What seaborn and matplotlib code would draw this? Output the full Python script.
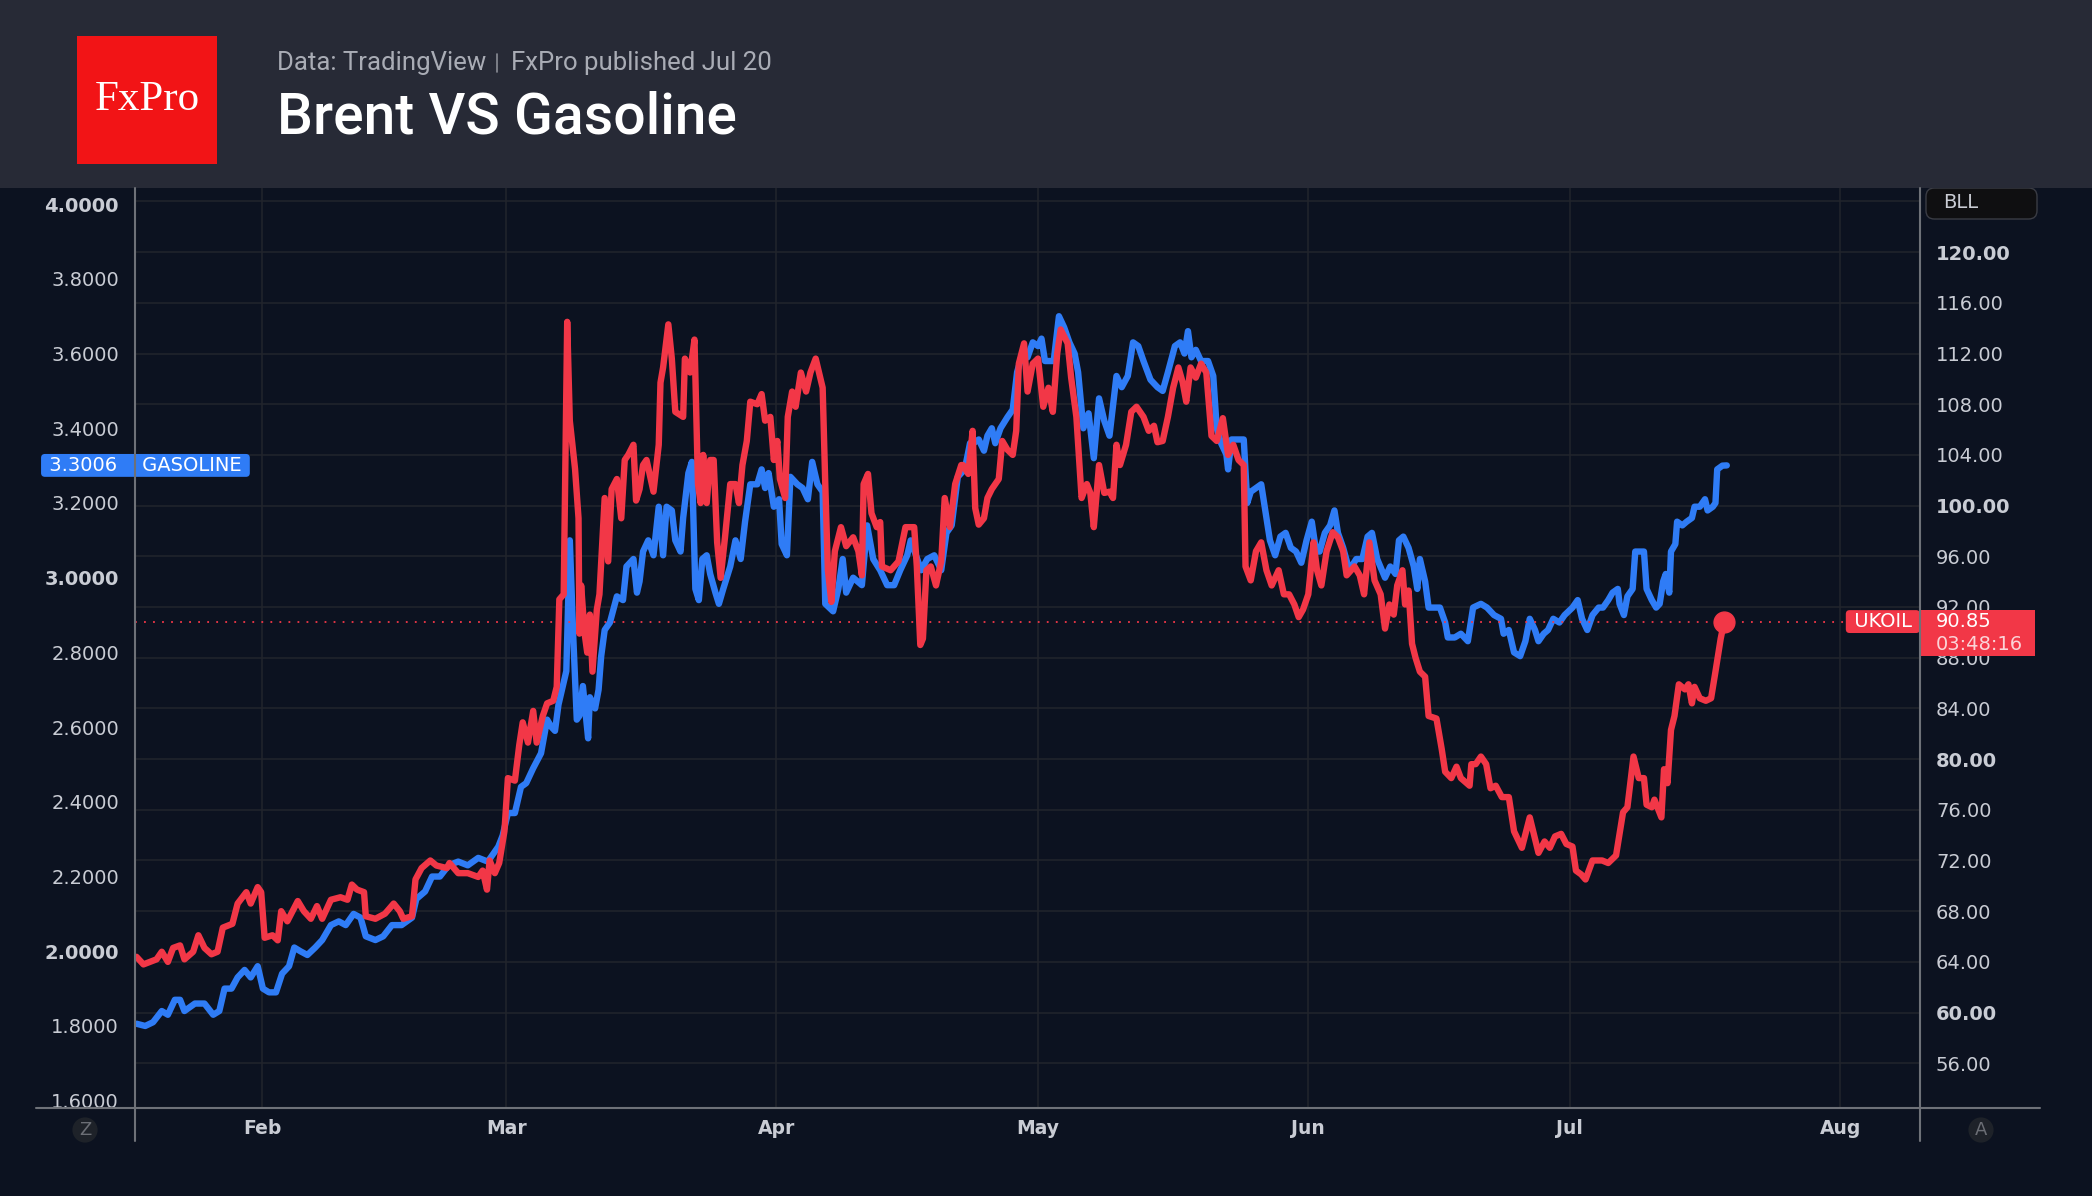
import numpy as np
import pandas as pd
import matplotlib
matplotlib.use('Agg')
import matplotlib.pyplot as plt
import matplotlib.transforms as mtransforms
from matplotlib.patches import Rectangle, FancyBboxPatch
from matplotlib.lines import Line2D
import seaborn as sns

# ---- data ----
# x = day of year 2022 (0 = Jan 1), values in each series' own units
brent_day = [16.6, 17.4, 18.9, 19.5, 20.2, 20.8, 21.6, 22.1, 23.1, 23.7, 24.4, 25.2, 25.9, 26.5, 27.6, 28.2,
             29.2, 29.7, 30.5, 30.9, 31.3, 32.2, 32.8, 33.2, 33.9, 35.1, 35.8, 36.6, 37.3, 37.9, 38.9, 40.0,
             40.8, 41.3, 41.9, 42.7, 42.9, 44.0, 45.1, 46.1, 46.8, 47.2, 48.2, 48.6, 49.3, 50.3, 51.0, 52.2,
             52.5, 53.5, 54.6, 55.8, 56.3, 56.8, 57.1, 57.7, 58.2, 58.8, 59.2, 60.0, 60.5, 60.9, 61.5, 62.1,
             62.5, 63.2, 63.7, 64.4, 64.8, 65.1, 65.6, 66.0, 66.3, 66.9, 67.3, 67.4, 67.6, 68.0, 68.3, 68.6,
             68.9, 69.4, 69.7, 70.3, 70.7, 71.1, 71.7, 72.2, 72.6, 73.0, 73.6, 73.9, 74.3, 74.7, 75.1, 75.9,
             76.5, 76.7, 77.0, 77.6, 78.0, 78.4, 79.3, 79.5, 80.1, 80.6, 81.0, 81.3, 81.6, 82.0, 82.4, 82.8,
             83.2, 83.6, 84.1, 84.7, 85.3, 85.7, 86.1, 86.6, 87.0, 87.8, 88.3, 88.7, 89.3, 89.7, 90.1, 90.4,
             91.0, 91.3, 91.8, 92.2, 92.8, 93.4, 93.9, 94.5, 95.3, 95.6, 95.9, 96.3, 96.7, 97.4, 98.0, 98.8,
             99.4, 99.8, 100.0, 100.5, 100.9, 101.5, 101.9, 102.1, 103.1, 104.0, 104.8, 105.8, 106.1, 106.5,
             106.8, 107.2, 107.7, 108.3, 108.9, 109.3, 109.9, 110.5, 111.2, 111.4, 112.0, 112.5, 112.8, 113.2,
             113.8, 114.2, 114.7, 115.5, 115.9, 116.5, 117.1, 117.5, 117.8, 118.4, 118.8, 119.4, 120.0, 120.6,
             121.2, 121.7, 122.2, 122.6, 123.4, 123.8, 124.4, 125.0, 125.6, 126.0, 126.4, 127.0, 127.6, 128.2,
             128.6, 129.0, 129.4, 130.1, 130.7, 131.3, 132.1, 132.7, 133.3, 133.7, 134.3, 134.9, 135.5, 136.1,
             136.6, 137.0, 137.5, 138.1, 138.7, 139.3, 139.9, 140.5, 141.2, 141.8, 142.4, 143.0, 143.6, 143.8,
             144.4, 145.0, 145.6, 146.2, 146.8, 147.6, 148.2, 148.8, 149.4, 149.9, 150.4, 151.0, 151.6, 152.0,
             152.5, 153.1, 153.8, 154.4, 155.0, 155.4, 156.3, 156.9, 157.4, 158.0, 158.6, 159.3, 159.8, 160.3,
             160.8, 161.2, 161.8, 162.1, 162.5, 162.9, 163.3, 163.8, 164.4, 164.8, 165.7, 166.3, 166.7, 167.4,
             168.0, 168.5, 169.5, 169.7, 170.2, 170.8, 171.4, 171.9, 172.5, 173.2, 174.0, 174.6, 175.5, 176.4,
             177.4, 178.1, 178.7, 179.3, 180.0, 180.6, 181.3, 181.7, 182.3, 182.8, 183.6, 184.7, 185.4, 186.3,
             187.1, 187.6, 188.3, 188.9, 189.5, 189.8, 190.4, 190.7, 191.5, 191.8, 192.2, 192.6, 193.0, 193.5,
             194.2, 194.6, 195.0, 195.3, 195.9, 196.6, 197.2, 197.7, 198.3, 198.7]
brent_price = [64.4, 63.8, 64.2, 64.8, 64.0, 65.1, 65.3, 64.2, 64.8, 66.1, 65.1, 64.6, 64.8, 66.7, 67.0, 68.6,
               69.5, 68.6, 69.9, 69.5, 65.9, 66.1, 65.7, 68.0, 67.2, 68.8, 68.0, 67.4, 68.4, 67.4, 68.9, 69.1,
               68.9, 70.1, 69.7, 69.5, 67.6, 67.4, 67.8, 68.6, 68.0, 67.4, 67.6, 70.5, 71.4, 72.0, 71.6, 71.4,
               71.8, 71.0, 71.0, 70.7, 71.2, 69.7, 72.0, 71.0, 71.8, 74.3, 78.5, 78.3, 81.1, 82.9, 81.3, 83.8,
               81.3, 83.4, 84.4, 84.6, 85.7, 92.6, 93.0, 114.5, 106.7, 102.9, 99.0, 89.9, 93.7, 89.9, 88.4, 91.4,
               86.9, 91.8, 93.0, 100.6, 95.6, 101.3, 102.1, 99.0, 103.6, 104.0, 104.8, 100.4, 101.3, 103.2, 103.6, 101.1,
               104.8, 109.7, 110.9, 114.3, 111.6, 107.4, 107.0, 111.6, 110.5, 113.1, 101.7, 100.2, 104.0, 100.2, 103.6, 103.6,
               97.1, 94.3, 97.5, 101.7, 101.7, 100.2, 103.2, 105.1, 108.2, 108.0, 108.8, 106.7, 107.0, 103.6, 105.1, 102.1,
               100.6, 107.0, 109.0, 107.8, 110.5, 109.0, 110.5, 111.6, 109.3, 101.7, 94.9, 92.4, 96.4, 98.3, 96.8, 97.5,
               96.4, 94.5, 101.7, 102.5, 99.4, 98.3, 98.7, 95.2, 94.9, 95.6, 98.3, 98.3, 95.2, 89.0,
               89.5, 94.9, 95.2, 93.7, 95.6, 100.6, 98.3, 101.7, 103.2, 103.2, 102.5, 105.9, 99.8, 98.5,
               99.0, 100.6, 101.3, 102.1, 105.1, 104.4, 104.0, 105.9, 111.2, 112.8, 109.0, 111.2, 111.6, 107.8,
               109.3, 107.4, 112.0, 113.9, 112.8, 110.1, 107.0, 100.6, 101.7, 101.0, 98.3, 103.2, 101.0, 101.1,
               100.6, 104.8, 103.2, 104.8, 107.4, 107.8, 107.0, 105.9, 106.3, 105.0, 105.1, 107.0, 109.3, 110.9,
               109.7, 108.2, 110.9, 110.1, 111.2, 110.5, 105.5, 105.1, 106.9, 104.0, 104.8, 103.6, 103.2, 95.2,
               94.1, 96.4, 97.1, 94.9, 93.7, 94.9, 93.0, 93.0, 92.2, 91.2, 91.8, 93.0, 97.1, 94.9,
               93.7, 96.4, 97.9, 97.5, 96.4, 94.5, 95.2, 94.5, 93.0, 97.1, 94.1, 93.0, 90.3, 92.2,
               91.4, 93.7, 94.9, 92.2, 93.3, 89.1, 88.0, 86.9, 86.5, 83.4, 83.2, 80.8, 79.0, 78.5,
               79.4, 78.5, 77.9, 79.6, 79.6, 80.2, 79.6, 77.7, 77.9, 77.0, 77.0, 74.3, 73.0, 75.4,
               72.6, 73.5, 73.0, 73.9, 74.1, 73.3, 73.1, 71.2, 70.9, 70.5, 72.0, 72.0, 71.8, 72.4,
               75.8, 76.2, 80.2, 78.5, 78.5, 76.4, 76.2, 76.8, 75.4, 79.2, 78.1, 82.3, 83.4, 85.9,
               85.5, 85.9, 84.4, 85.7, 84.8, 84.6, 84.8, 86.9, 89.5, 90.85]

gas_day = [16.6, 17.6, 18.5, 19.5, 20.2, 21.0, 21.6, 22.1, 23.3, 24.4, 25.4, 26.1, 26.7, 27.5, 28.2, 29.0,
           29.7, 30.5, 31.1, 31.8, 32.6, 33.3, 34.1, 34.7, 35.4, 36.2, 37.1, 37.9, 38.9, 39.8, 40.6, 41.5,
           42.3, 42.9, 44.0, 44.9, 45.9, 47.0, 48.2, 48.7, 49.7, 50.5, 51.4, 52.4, 53.5, 54.6, 55.8, 56.9,
           58.1, 58.6, 59.2, 60.0, 60.7, 61.3, 62.1, 63.0, 63.7, 64.2, 64.6, 65.0, 65.5, 65.9, 66.3, 66.7,
           67.1, 67.4, 67.8, 68.4, 68.6, 69.2, 69.6, 69.9, 70.3, 70.9, 71.7, 72.4, 72.8, 73.6, 74.0, 74.3,
           74.7, 75.3, 75.9, 76.5, 77.0, 77.4, 78.0, 78.4, 79.0, 79.3, 79.9, 80.3, 80.7, 81.1, 81.5, 82.0,
           82.4, 83.0, 83.4, 83.9, 84.7, 85.3, 85.9, 86.4, 87.0, 87.8, 88.3, 88.7, 89.1, 89.7, 90.3, 90.6,
           91.2, 91.6, 92.4, 93.0, 93.6, 94.1, 94.7, 95.3, 95.6, 96.5, 97.1, 97.6, 98.0, 98.8, 99.8, 100.4,
           101.1, 101.9, 102.7, 103.5, 104.2, 105.0, 105.4, 106.6, 107.3, 108.1, 108.9, 109.5, 110.1, 110.8,
           111.2, 111.6, 112.2, 112.6, 113.2, 113.8, 114.2, 114.7, 115.1, 115.7, 116.5, 117.1, 117.6, 118.2,
           118.8, 119.4, 120.0, 120.4, 120.8, 121.4, 121.8, 122.4, 123.0, 123.6, 124.2, 124.6, 125.2, 125.8,
           126.4, 127.0, 127.6, 128.2, 128.6, 129.0, 129.6, 130.3, 130.9, 131.5, 132.1, 132.9, 133.7, 134.3,
           134.9, 135.7, 136.3, 136.8, 137.2, 137.6, 138.1, 138.7, 139.5, 140.1, 140.5, 141.0, 141.6, 141.8,
           142.2, 142.8, 143.6, 144.0, 144.4, 145.0, 145.6, 146.0, 146.6, 147.2, 147.8, 148.4, 149.0, 149.6,
           150.2, 150.8, 151.4, 151.9, 152.3, 152.9, 153.5, 154.0, 154.4, 155.0, 155.7, 156.5, 157.2, 157.8,
           158.3, 158.9, 159.8, 160.4, 161.0, 161.4, 161.9, 162.5, 163.1, 163.5, 163.8, 164.4, 164.8, 165.5,
           166.1, 166.7, 167.0, 167.8, 168.5, 169.3, 169.9, 170.8, 171.5, 172.3, 173.1, 173.4, 174.0, 174.6,
           175.3, 175.9, 176.4, 177.0, 177.4, 178.0, 178.5, 179.1, 179.8, 180.4, 181.3, 181.9, 182.4, 183.0,
           183.6, 184.3, 184.8, 185.4, 185.9, 186.5, 186.7, 187.2, 187.6, 188.2, 188.5, 189.5, 189.8, 190.4,
           190.9, 191.3, 191.7, 192.0, 192.4, 192.6, 193.1, 193.3, 193.9, 194.4, 195.0, 195.3, 195.9, 196.5,
           196.8, 197.4, 197.7, 197.9, 198.5, 199.0]
gas_price = [1.806, 1.80, 1.81, 1.84, 1.83, 1.87, 1.87, 1.84, 1.86, 1.86, 1.83, 1.84, 1.90, 1.90, 1.93, 1.95,
             1.93, 1.96, 1.90, 1.89, 1.89, 1.94, 1.96, 2.01, 2.00, 1.99, 2.01, 2.03, 2.07, 2.08, 2.07, 2.10,
             2.09, 2.04, 2.03, 2.04, 2.07, 2.07, 2.09, 2.14, 2.16, 2.20, 2.20, 2.23, 2.24, 2.23, 2.25, 2.24,
             2.28, 2.31, 2.37, 2.37, 2.44, 2.45, 2.49, 2.53, 2.62, 2.60, 2.59, 2.66, 2.71, 2.75, 3.10, 2.84,
             2.62, 2.63, 2.71, 2.57, 2.68, 2.65, 2.70, 2.79, 2.86, 2.88, 2.95, 2.94, 3.03, 3.05, 2.96, 2.99,
             3.07, 3.10, 3.06, 3.19, 3.06, 3.19, 3.18, 3.10, 3.07, 3.16, 3.28, 3.31, 2.97, 2.94, 3.05, 3.06,
             3.01, 2.96, 2.93, 2.97, 3.03, 3.10, 3.05, 3.15, 3.25, 3.25, 3.29, 3.24, 3.28, 3.19, 3.21, 3.09,
             3.06, 3.27, 3.25, 3.24, 3.21, 3.31, 3.25, 3.23, 2.93, 2.91, 2.97, 3.05, 2.96, 3.00, 2.98, 3.14,
             3.05, 3.02, 2.98, 2.98, 3.02, 3.06, 3.10, 3.02, 3.05, 3.06, 3.02, 3.12, 3.14, 3.27,
             3.28, 3.29, 3.36, 3.36, 3.37, 3.34, 3.38, 3.40, 3.36, 3.40, 3.43, 3.45, 3.55, 3.60,
             3.59, 3.63, 3.62, 3.64, 3.58, 3.58, 3.58, 3.70, 3.67, 3.63, 3.60, 3.55, 3.40, 3.44,
             3.32, 3.48, 3.42, 3.38, 3.46, 3.54, 3.51, 3.54, 3.63, 3.62, 3.58, 3.53, 3.51, 3.50,
             3.55, 3.62, 3.63, 3.60, 3.66, 3.59, 3.61, 3.58, 3.58, 3.54, 3.40, 3.36, 3.33, 3.29,
             3.37, 3.37, 3.37, 3.20, 3.23, 3.24, 3.25, 3.19, 3.10, 3.06, 3.11, 3.12, 3.08, 3.07,
             3.04, 3.10, 3.15, 3.07, 3.07, 3.12, 3.14, 3.18, 3.12, 3.08, 3.02, 3.05, 3.05, 3.11,
             3.12, 3.05, 3.00, 3.03, 3.01, 3.10, 3.11, 3.08, 3.03, 2.97, 3.05, 2.99, 2.92, 2.92,
             2.92, 2.88, 2.84, 2.84, 2.85, 2.83, 2.92, 2.93, 2.92, 2.90, 2.89, 2.85, 2.86, 2.80,
             2.79, 2.83, 2.89, 2.86, 2.83, 2.85, 2.86, 2.89, 2.88, 2.90, 2.92, 2.94, 2.89, 2.86,
             2.90, 2.92, 2.92, 2.94, 2.96, 2.97, 2.93, 2.90, 2.95, 2.97, 3.07, 3.07, 2.97, 2.94,
             2.92, 2.93, 2.99, 3.01, 2.96, 3.07, 3.09, 3.15, 3.14, 3.15, 3.16, 3.19, 3.19, 3.21,
             3.18, 3.19, 3.20, 3.29, 3.30, 3.3006]

month_starts = ['2022-02-01', '2022-03-01', '2022-04-01', '2022-05-01', '2022-06-01', '2022-07-01', '2022-08-01']
month_names = ['Feb', 'Mar', 'Apr', 'May', 'Jun', 'Jul', 'Aug']
left_ticks = [1.6, 1.8, 2.0, 2.2, 2.4, 2.6, 2.8, 3.0, 3.2, 3.4, 3.6, 3.8, 4.0]
right_ticks = [56, 60, 64, 68, 72, 76, 80, 84, 88, 92, 96, 100, 104, 108, 112, 116, 120]
grid_ticks = right_ticks + [124]
countdown = '03:48:16'

# ---- style ----
BG = '#0c1220'
HEADER = '#272a36'
BLUE = '#2f7cf6'
RED = '#f23747'
GRID = '#22252c'
AXIS = '#6e7178'
TXT = '#c9ccd4'

sns.set_theme(style='dark', rc={'axes.facecolor': BG, 'figure.facecolor': BG, 'savefig.facecolor': BG})
plt.rcParams['font.family'] = ['DejaVu Sans']

start = pd.Timestamp('2022-01-01')
brent = pd.DataFrame({'date': start + pd.to_timedelta(brent_day, unit='D'), 'price': brent_price})
gas = pd.DataFrame({'date': start + pd.to_timedelta(gas_day, unit='D'), 'price': gas_price})

W, H = 2092, 1196
fig = plt.figure(figsize=(W / 100, H / 100), dpi=100)
L, R, T, B = 135, 1920, 188, 1108
rect = [L / W, 1 - B / H, (R - L) / W, (B - T) / H]

ax_bg = fig.add_axes(rect)
ax_bg.xaxis_date()
ax = fig.add_axes(rect, sharex=ax_bg)
ax2 = fig.add_axes(rect, sharex=ax_bg)
for a in (ax, ax2):
    a.patch.set_visible(False)
for a in (ax_bg, ax, ax2):
    for s in a.spines.values():
        s.set_visible(False)

right_lim = (52.47, 125.06)
left_lim = (1.5804, 4.0432)

# lines
sns.lineplot(data=gas, x='date', y='price', ax=ax, color=BLUE, lw=4.6, estimator=None, sort=False,
             solid_joinstyle='round', solid_capstyle='round')
sns.lineplot(data=brent, x='date', y='price', ax=ax2, color=RED, lw=4.6, estimator=None, sort=False,
             solid_joinstyle='round', solid_capstyle='round')
last_brent = brent['price'].iloc[-1]
last_gas = gas['price'].iloc[-1]
ax2.axhline(last_brent, color=RED, lw=1.3, ls=(0, (1, 4)), zorder=1)
ax2.plot(brent['date'].iloc[-1], last_brent, 'o', ms=15, color=RED, zorder=5)

for a in (ax, ax2):
    a.set_xlabel('')
    a.set_ylabel('')

# background grid axis
ax_bg.set_ylim(*right_lim)
ax_bg.set_yticks(grid_ticks)
ax_bg.grid(True, color=GRID, lw=1.1)
ax_bg.tick_params(axis='y', labelleft=False, length=0)
ax_bg.set_xlim(start + pd.Timedelta(days=16.43), start + pd.Timedelta(days=221.16))
ax_bg.set_xticks(pd.to_datetime(month_starts))
ax_bg.set_xticklabels(month_names, fontweight='bold')
ax_bg.tick_params(axis='x', length=0, pad=8, labelsize=13.5, labelcolor=TXT)

# left axis (gasoline)
ax.set_ylim(*left_lim)
ax.set_yticks(left_ticks)
ax.set_yticklabels([f'{v:.4f}' for v in left_ticks])
ax.tick_params(axis='y', length=0, pad=11.5, labelsize=14, labelcolor=TXT)
ax.tick_params(axis='x', labelbottom=False, length=0)
for lbl in ax.get_yticklabels():
    if lbl.get_text() in ('4.0000', '3.0000', '2.0000'):
        lbl.set_fontweight('bold')

# right axis (brent)
ax2.set_ylim(*right_lim)
ax2.yaxis.tick_right()
ax2.set_yticks(right_ticks)
ax2.set_yticklabels([f'{v:.2f}' for v in right_ticks])
ax2.tick_params(axis='y', length=0, pad=11.5, labelsize=14, labelcolor=TXT)
ax2.tick_params(axis='x', labelbottom=False, length=0)
for lbl in ax2.get_yticklabels():
    if lbl.get_text() in ('120.00', '100.00', '80.00', '60.00'):
        lbl.set_fontweight('bold')

# frame lines
fig.add_artist(Line2D([L / W, L / W], [1 - 1141 / H, 1 - T / H], transform=fig.transFigure, color=AXIS, lw=1.5, zorder=5))
fig.add_artist(Line2D([R / W, R / W], [1 - 1141 / H, 1 - T / H], transform=fig.transFigure, color=AXIS, lw=1.5, zorder=5))
fig.add_artist(Line2D([36 / W, 2040 / W], [1 - B / H, 1 - B / H], transform=fig.transFigure, color=AXIS, lw=1.5, zorder=5))

# price labels
ax.annotate(f' {last_gas:.4f}    GASOLINE ', xy=(43, last_gas), xycoords=('figure pixels', 'data'),
            ha='left', va='center', fontsize=14, color='white', annotation_clip=False, zorder=6,
            bbox=dict(boxstyle='round,pad=0.1,rounding_size=0.2', fc=BLUE, ec='none'))
ax2.annotate(' UKOIL ', xy=(1.0, last_brent), xycoords=('axes fraction', 'data'),
             xytext=(-2, 0), textcoords='offset pixels', ha='right', va='center', fontsize=14,
             color='white', annotation_clip=False, zorder=6,
             bbox=dict(boxstyle='round,pad=0.1,rounding_size=0.2', fc=RED, ec='none'))
px_y = (right_lim[1] - right_lim[0]) / (B - T)
trans = mtransforms.blended_transform_factory(ax2.transAxes, ax2.transData)
ax2.add_patch(Rectangle((1.0, last_brent - 34 * px_y), 115 / (R - L), 46 * px_y, transform=trans,
                        fc=RED, ec='none', clip_on=False, zorder=6))
ax2.annotate(f'{last_brent:.2f}', xy=(1.0, last_brent), xycoords=('axes fraction', 'data'),
             xytext=(16, 0), textcoords='offset pixels', ha='left', va='center', fontsize=14,
             color='white', annotation_clip=False, zorder=7)
ax2.annotate(countdown, xy=(1.0, last_brent), xycoords=('axes fraction', 'data'),
             xytext=(16, -23), textcoords='offset pixels', ha='left', va='center', fontsize=14,
             color='#fbd3d7', annotation_clip=False, zorder=7)

# header
fig.add_artist(Rectangle((0, 1 - T / H), 1, T / H, transform=fig.transFigure, fc=HEADER, ec='none', zorder=1))
fig.add_artist(Rectangle((77 / W, 1 - 164 / H), 140 / W, 128 / H, transform=fig.transFigure,
                         fc='#f21416', ec='none', zorder=2))
fig.text(147 / W, 1 - 100 / H, 'FxPro', ha='center', va='center', color='white', fontsize=31,
         family=['Liberation Serif', 'DejaVu Serif'], zorder=3)
fig.text(277 / W, 1 - 63 / H, 'Data: TradingView', ha='left', va='center', color='#a9acb5',
         fontsize=18.5, family=['Roboto', 'DejaVu Sans'], zorder=3)
fig.add_artist(Line2D([497 / W, 497 / W], [1 - 72 / H, 1 - 54 / H], transform=fig.transFigure,
                      color='#8a8d96', lw=1.2, zorder=3))
fig.text(511 / W, 1 - 63 / H, 'FxPro published Jul 20', ha='left', va='center', color='#a9acb5',
         fontsize=18.5, family=['Roboto', 'DejaVu Sans'], zorder=3)
fig.text(277 / W, 1 - 133 / H, 'Brent VS Gasoline', ha='left', va='baseline', color='white',
         fontsize=41, fontweight='medium', family=['Roboto', 'DejaVu Sans'], zorder=3)

# BLL box top right
fig.add_artist(FancyBboxPatch((1926 / W, 1 - 219 / H), 111 / W, 31 / H, transform=fig.transFigure,
                              boxstyle='round,pad=0,rounding_size=0.004', mutation_aspect=W / H,
                              fc='#0f0f11', ec='#3a3c44', lw=1, zorder=0.5))
fig.text(1943 / W, 1 - 202 / H, 'BLL', ha='left', va='center', color=TXT, fontsize=14, zorder=3)

# Z / A buttons
for xpix, letter in ((85, 'Z'), (1981, 'A')):
    fig.text(xpix / W, 1 - 1130 / H, letter, ha='center', va='center', color='#6b6e75', fontsize=13,
             bbox=dict(boxstyle='circle,pad=0.2', fc='#1e2229', ec='none'), zorder=3)

fig.savefig('out.png', dpi=100, facecolor=BG)
